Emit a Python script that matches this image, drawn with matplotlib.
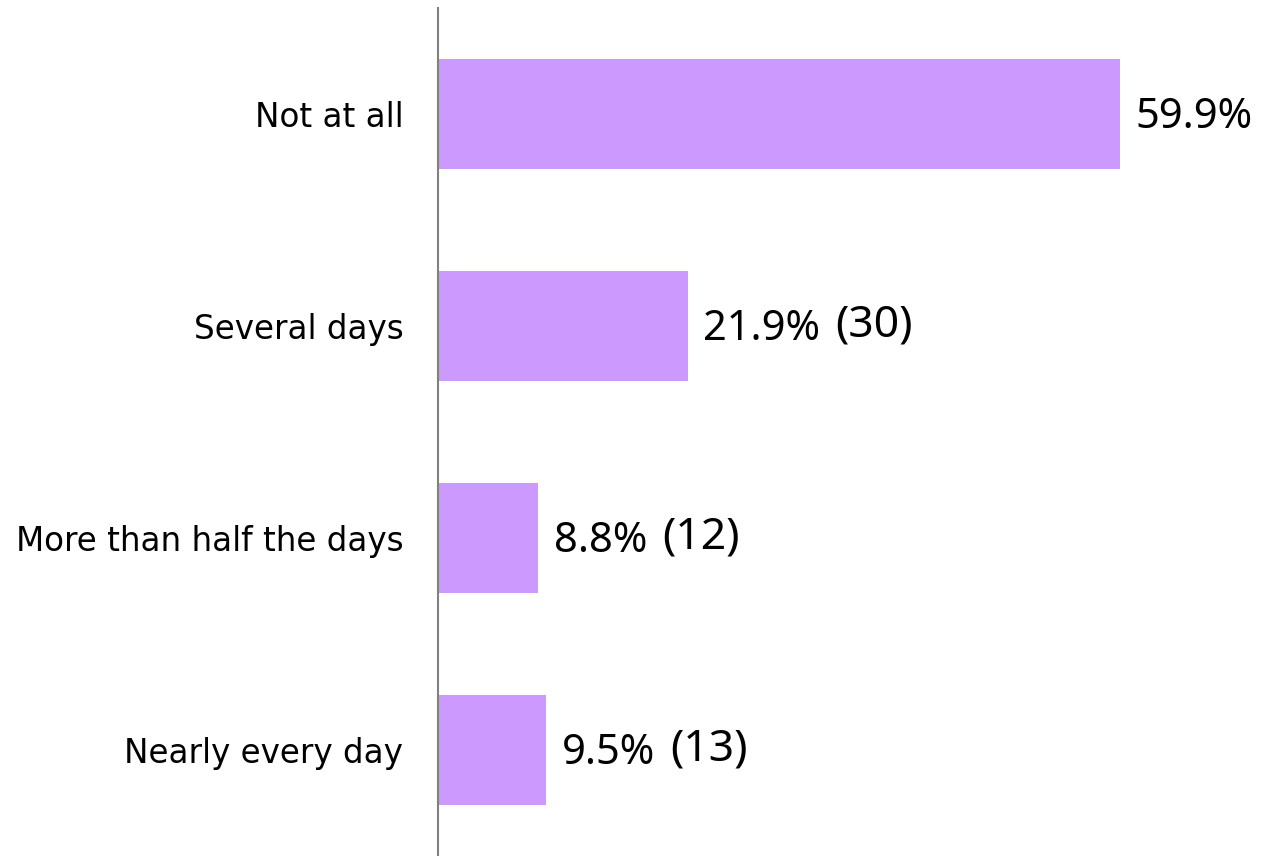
import matplotlib
matplotlib.use("Agg")
import matplotlib.pyplot as plt

categories = ["Not at all", "Several days", "More than half the days", "Nearly every day"]
percents = [59.9, 21.9, 8.8, 9.5]
counts = [None, 30, 12, 13]

bar_color = "#CC99FF"

fig = plt.figure(figsize=(12.64, 8.56), dpi=100)
ax = fig.add_axes([438 / 1264, 0.0, 826 / 1264, 848 / 856])

y = list(range(len(categories)))
ax.barh(y, percents, height=0.52, color=bar_color, edgecolor="none")
ax.set_ylim(3.5, -0.5)
ax.set_xlim(0, 72.5)

ax.set_yticks(y)
ax.set_yticklabels(categories, fontsize=23.5, family="DejaVu Sans")
ax.tick_params(axis="y", length=0, pad=25)
ax.set_xticks([])
for side in ["top", "right", "bottom"]:
    ax.spines[side].set_visible(False)
ax.spines["left"].set_color("#808080")
ax.spines["left"].set_linewidth(1.5)

fig.canvas.draw()
renderer = fig.canvas.get_renderer()
for i, (p, c) in enumerate(zip(percents, counts)):
    t = ax.annotate(f"{p}%", xy=(p, i), xytext=(11, -2), textcoords="offset points",
                    va="center", ha="left", fontsize=30, family="Noto Sans")
    if c is not None:
        bb = t.get_window_extent(renderer)
        x_px = bb.x1 + 15
        xd = ax.transData.inverted().transform((x_px, 0))[0]
        ax.text(xd, i, f"({c})", va="center", ha="left", fontsize=32,
                family="Noto Sans")

fig.savefig("out.png", dpi=100)
